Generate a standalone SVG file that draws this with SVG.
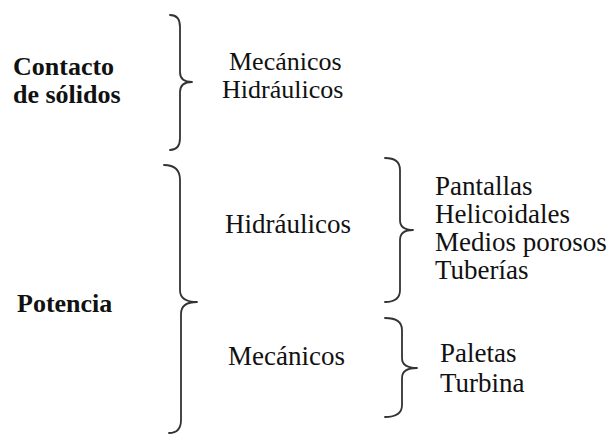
<svg xmlns="http://www.w3.org/2000/svg" width="613" height="435" viewBox="0 0 613 435">
<style>
.t{font-family:'Liberation Serif','DejaVu Serif',serif;font-size:27px;fill:#111}
.s{font-size:26px}
.b{font-weight:bold;font-size:26px}
.brace{fill:none;stroke:#333;stroke-width:1.8;stroke-linecap:round;stroke-linejoin:round}
</style>
<rect width="613" height="435" fill="#fff"/>
<g id="contacto"><text class="t b" x="13" y="75">Contacto</text><text class="t b" x="13" y="103">de sólidos</text></g>
<g id="contacto-hijos"><text class="t s" x="229" y="70">Mecánicos</text><text class="t s" x="222" y="98">Hidráulicos</text></g>
<g id="potencia"><text class="t b" x="17" y="312">Potencia</text></g>
<g id="hidraulicos"><text class="t" x="225" y="233">Hidráulicos</text></g>
<g id="mecanicos"><text class="t" x="228" y="365">Mecánicos</text></g>
<g id="hidraulicos-hijos"><text class="t" x="435" y="195">Pantallas</text><text class="t" x="435" y="223">Helicoidales</text><text class="t" x="435" y="251">Medios porosos</text><text class="t" x="435" y="279">Tuberías</text></g>
<g id="mecanicos-hijos"><text class="t" x="440" y="362">Paletas</text><text class="t" x="440" y="392">Turbina</text></g>
<g id="connectors">
<path class="brace" d="M170,15 Q180,15 180,27 L180,72 Q180,82 192,82 Q180,82 180,92 L180,138 Q180,150 170,150"/>
<path class="brace" d="M164,165 Q180,165 180,180 L180,290 Q180,302 197,302 Q181,302 181,314 L181,420 Q181,433 169,433"/>
<path class="brace" d="M385,158 Q400,158 400,170 L400,220 Q400,230 413,230 Q400,230 400,240 L400,290 Q400,302 385,302"/>
<path class="brace" d="M385,318 Q402,318 402,330 L402,358 Q402,368 417,368 Q402,368 402,378 L402,405 Q402,417 385,417"/>
</g>
</svg>
